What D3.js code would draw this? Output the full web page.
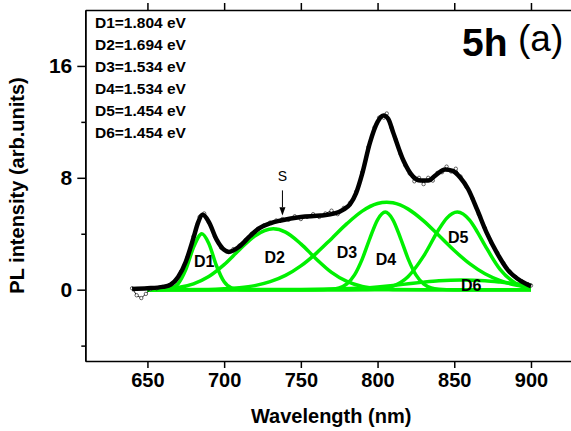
<!DOCTYPE html>
<html>
<head>
<meta charset="utf-8">
<script src="https://cdn.jsdelivr.net/npm/d3@7"></script>
<style>
  body { margin: 0; background: #fff; }
  text { font-family: "Liberation Sans", Arial, sans-serif; }
</style>
</head>
<body>
<div id="chart"></div>
<script>
// wavelength (nm), PL intensity
const rawData = [[640,0.1],[643,-0.4],[646,-0.6],[649,-0.3],[652,0.05],[656,0.1],[660,0.2],[664,0.3],[668,0.6],[672,1.3],
  [676,2.3],[680,3.8],[684,5.2],[687,5.45],[690,4.8],[694,3.8],[698,3.0],[702,2.75],[706,2.9],[710,3.15],[714,3.55],[718,4.0],
  [722,4.35],[726,4.6],[730,4.8],[734,4.95],[738,5.05],[742,5.0],[746,5.25],[750,5.05],[754,5.2],[758,5.4],[762,5.2],[766,5.45],
  [770,5.65],[774,5.4],[778,5.85],[782,6.2],[786,7.0],[790,8.4],[794,10.2],[798,11.6],[801,12.3],[804,12.3],[806,12.6],[809,11.6],
  [812,10.7],[815,9.7],[818,8.9],[821,8.3],[824,7.75],[827,8.0],[830,7.55],[833,8.0],[836,7.8],[839,8.35],[842,8.4],[845,8.8],
  [848,8.45],[851,8.65],[854,8.1],[858,7.35],[862,6.5],[866,5.4],[870,4.4],[874,3.4],[878,2.65],[882,1.9],[886,1.3],[890,0.9],
  [894,0.6],[898,0.4],[900,0.3]];

const fitData = [[640,0.05],[650,0.1],[660,0.2],[665,0.35],[670,0.9],[675,2.0],[680,3.7],[683,4.8],[686,5.35],[690,4.85],
  [695,3.6],[700,2.85],[703,2.7],[710,3.1],[717,3.85],[723,4.4],[730,4.75],[737,4.95],[750,5.2],[763,5.3],[772,5.45],
  [778,5.75],[782,6.1],[786,6.9],[790,8.3],[795,10.5],[800,12.0],[804,12.45],[807,12.2],[810,11.3],[817,9.2],[823,8.1],
  [828,7.8],[833,7.8],[838,8.2],[844,8.6],[849,8.5],[854,8.0],[859,7.2],[865,5.7],[871,4.1],[878,2.6],[885,1.4],[891,0.8],
  [897,0.4],[900,0.25]];

const peakD1 = [[650,0],[660,0.01],[665,0.08],[670,0.42],[675,1.43],[680,3.01],[685.5,4.0],[690,3.31],[695,1.71],[700,0.56],
  [705,0.11],[710,0.01],[720,0],[900,0]];
const peakD2 = [[650,0.01],[660,0.05],[670,0.15],[680,0.42],[690,0.94],[700,1.79],[710,2.86],[720,3.84],[732,4.35],[740,4.12],
  [750,3.28],[760,2.2],[770,1.24],[780,0.59],[790,0.23],[800,0.08],[810,0.02],[830,0],[900,0]];
const peakD3 = [[650,0],[690,0.02],[700,0.06],[710,0.14],[720,0.29],[730,0.57],[740,1.02],[750,1.7],[760,2.6],[770,3.65],
  [780,4.72],[790,5.62],[800,6.16],[806,6.25],[810,6.21],[820,5.76],[830,4.92],[840,3.87],[850,2.8],[860,1.86],[870,1.14],
  [880,0.65],[890,0.33],[900,0.16]];
const peakD4 = [[650,0],[760,0],[770,0.04],[775,0.13],[780,0.42],[785,1.06],[790,2.19],[795,3.67],[800,5.0],[805,5.55],
  [810,5.0],[815,3.67],[820,2.19],[825,1.06],[830,0.42],[835,0.13],[840,0.04],[850,0],[900,0]];
const peakD5 = [[650,0],[780,0],[790,0.01],[800,0.05],[810,0.26],[820,0.95],[830,2.4],[840,4.32],[845,5.1],[852,5.55],
  [860,4.97],[865,4.14],[870,3.17],[880,1.43],[890,0.46],[900,0.1]];
const peakD6 = [[650,0],[750,0.01],[770,0.04],[790,0.12],[800,0.2],[810,0.3],[820,0.42],[830,0.54],[840,0.64],[855,0.7],
  [870,0.64],[880,0.54],[890,0.42],[900,0.3]];

const peakNames = ["D1", "D2", "D3", "D4", "D5", "D6"];
const peakEnergies = ["1.804", "1.694", "1.534", "1.534", "1.454", "1.454"];
// label anchor (nm, intensity) for each peak name
const peakLabelAt = [[687, 1.6], [733, 1.9], [780, 2.3], [805.5, 1.75], [852.5, 3.35], [861, -0.13]];

const xTicks = [650, 700, 750, 800, 850, 900];
const yTicks = [0, 8, 16];
const yMinorTicks = [-4, 4, 12];

class plViz {
  constructor(parentElement) {
    this.parentElement = parentElement;
    this.initVis();
  }

  initVis() {
    let vis = this;
    vis.W = 571; vis.H = 431;
    vis.svg = d3.select("#" + vis.parentElement).append("svg")
      .attr("width", vis.W).attr("height", vis.H);

    vis.x = d3.scaleLinear().domain([609.5, 930]).range([85.3, 577]);
    vis.y = d3.scaleLinear().domain([-5.1, 20]).range([361, 10]);

    vis.drawAxes();
    vis.drawCurves();
    vis.drawText();
  }

  drawAxes() {
    let vis = this;
    let bottom = vis.svg.append("g").attr("transform", "translate(0,361)")
      .call(d3.axisBottom(vis.x).tickValues(xTicks).tickSizeInner(7).tickSizeOuter(0).tickPadding(5));
    bottom.selectAll("text").style("font-size", "20px").style("font-weight", "bold").attr("fill", "#000");

    vis.svg.append("g").attr("transform", "translate(0,10)")
      .call(d3.axisTop(vis.x).tickValues(xTicks).tickSizeInner(7).tickSizeOuter(0).tickFormat(""));

    let left = vis.svg.append("g").attr("transform", "translate(85.3,0)")
      .call(d3.axisLeft(vis.y).tickValues(yTicks).tickSizeInner(8).tickSizeOuter(0).tickPadding(5));
    left.selectAll("text").style("font-size", "21px").style("font-weight", "bold").attr("fill", "#000");
    vis.svg.append("g").attr("transform", "translate(85.3,0)")
      .call(d3.axisLeft(vis.y).tickValues(yMinorTicks).tickSizeInner(4).tickSizeOuter(0).tickFormat(""));

    vis.svg.append("g").attr("transform", "translate(577,0)")
      .call(d3.axisRight(vis.y).tickValues(yTicks).tickSizeOuter(0).tickFormat(""));

    vis.svg.selectAll(".domain, .tick line").attr("stroke", "#000").attr("stroke-width", 1.5);

    vis.svg.append("text")
      .attr("x", (85.3 + 577) / 2).attr("y", 423)
      .attr("text-anchor", "middle")
      .style("font-size", "20px").style("font-weight", "bold")
      .text("Wavelength (nm)");

    vis.svg.append("text")
      .attr("transform", "translate(24," + (10 + 361) / 2 + ") rotate(-90)")
      .attr("text-anchor", "middle")
      .style("font-size", "20px").style("font-weight", "bold")
      .text("PL intensity (arb.units)");
  }

  drawCurves() {
    let vis = this;
    let line = d3.line()
      .x(d => vis.x(d[0]))
      .y(d => vis.y(d[1]))
      .curve(d3.curveMonotoneX);

    let peaks = [peakD1, peakD2, peakD3, peakD4, peakD5, peakD6];
    vis.svg.selectAll(".peak")
      .data(peaks)
      .enter().append("path")
      .attr("class", "peak")
      .attr("d", line)
      .attr("fill", "none")
      .attr("stroke", "#00f000")
      .attr("stroke-width", 3.5);

    vis.svg.append("path")
      .datum(rawData)
      .attr("d", d3.line().x(d => vis.x(d[0])).y(d => vis.y(d[1])))
      .attr("fill", "none")
      .attr("stroke", "#000")
      .attr("stroke-width", 0.9);

    vis.svg.selectAll(".raw")
      .data(rawData)
      .enter().append("circle")
      .attr("class", "raw")
      .attr("cx", d => vis.x(d[0]))
      .attr("cy", d => vis.y(d[1]))
      .attr("r", 1.7)
      .attr("fill", "#fff")
      .attr("stroke", "#000")
      .attr("stroke-width", 0.6);

    vis.svg.append("path")
      .datum(fitData)
      .attr("d", line)
      .attr("fill", "none")
      .attr("stroke", "#000")
      .attr("stroke-width", 4.5)
      .attr("stroke-linejoin", "round");
  }

  drawText() {
    let vis = this;

    vis.svg.selectAll(".plabel")
      .data(peakNames)
      .enter().append("text")
      .attr("class", "plabel")
      .attr("x", (d, i) => vis.x(peakLabelAt[i][0]))
      .attr("y", (d, i) => vis.y(peakLabelAt[i][1]))
      .attr("text-anchor", "middle")
      .style("font-size", "16px").style("font-weight", "bold")
      .text(d => d);

    vis.svg.selectAll(".legend")
      .data(peakNames)
      .enter().append("text")
      .attr("class", "legend")
      .attr("x", 95)
      .attr("y", (d, i) => 28 + i * 22)
      .style("font-size", "15.5px").style("font-weight", "bold")
      .text((d, i) => d + "=" + peakEnergies[i] + " eV");

    vis.svg.append("text")
      .attr("x", 462).attr("y", 56)
      .style("font-size", "39px").style("font-weight", "bold")
      .text("5h");
    vis.svg.append("text")
      .attr("x", 518).attr("y", 51)
      .style("font-size", "37px")
      .text("(a)");

    // "S" shoulder marker
    let sx = vis.x(738);
    vis.svg.append("text")
      .attr("x", sx).attr("y", vis.y(7.8))
      .attr("text-anchor", "middle")
      .style("font-size", "14px")
      .text("S");
    vis.svg.append("line")
      .attr("x1", sx).attr("x2", sx)
      .attr("y1", vis.y(7.1)).attr("y2", vis.y(5.9))
      .attr("stroke", "#000").attr("stroke-width", 1);
    vis.svg.append("path")
      .attr("d", "M" + (sx - 3) + "," + vis.y(5.9) + "L" + (sx + 3) + "," + vis.y(5.9) + "L" + sx + "," + vis.y(5.3) + "Z")
      .attr("fill", "#000");
  }
}

new plViz("chart");
</script>
</body>
</html>
